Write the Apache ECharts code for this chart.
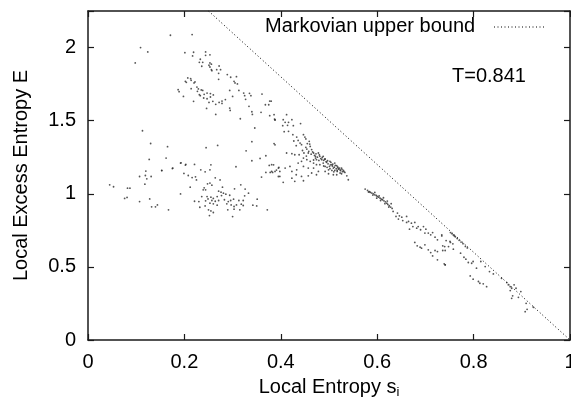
<!DOCTYPE html>
<html>
<head>
<meta charset="utf-8">
<script src="https://cdn.jsdelivr.net/npm/echarts@6/dist/echarts.min.js"></script>
<style>
html,body{margin:0;padding:0;background:#fff;}
#chart{width:571px;height:401px;}
</style>
</head>
<body>
<div id="chart"></div>
<script>
// Axis settings / tick labels
const xTicks = [0, 0.2, 0.4, 0.6, 0.8, 1];
const yTicks = [0, 0.5, 1, 1.5, 2];
const xRange = [0, 1];
const yRange = [0, 2.25];

// Markovian upper bound (end points)
const boundS = [0.25, 1.0];
const boundE = [2.25, 0.0];

// Scatter data: [local entropy s_i, local excess entropy E]
const topStray = [
  [0.109,2.0],[0.124,1.97],[0.098,1.895],[0.171,2.084],[0.216,2.089]
];
const upperArc = [
  [0.201,1.965],[0.219,1.968],[0.217,1.943],[0.244,1.97],[0.253,1.95],[0.244,1.947],[0.233,1.92],
  [0.231,1.899],[0.238,1.899],[0.253,1.895],[0.256,1.886],[0.251,1.879],[0.253,1.867],[0.236,1.872],
  [0.256,1.849],[0.257,1.842],[0.267,1.849],[0.272,1.874],[0.275,1.849],[0.271,1.824],[0.271,1.783],
  [0.289,1.815],[0.296,1.797],[0.308,1.801],[0.303,1.769],[0.305,1.758],[0.310,1.751],[0.294,1.707],
  [0.313,1.707],[0.300,1.666],[0.207,1.792],[0.213,1.787],[0.202,1.769],[0.204,1.762],[0.214,1.776],
  [0.220,1.758],[0.222,1.765],[0.214,1.719],[0.226,1.730],[0.229,1.717],[0.227,1.701],[0.235,1.710],
  [0.238,1.707],[0.187,1.712],[0.189,1.698],[0.198,1.666],[0.231,1.678],[0.233,1.671],[0.241,1.680],
  [0.247,1.689],[0.254,1.685],[0.260,1.676],[0.240,1.655],[0.247,1.650],[0.254,1.662],[0.259,1.632],
  [0.251,1.625],[0.265,1.612],[0.272,1.625],[0.278,1.634],[0.278,1.618],[0.285,1.644],[0.219,1.632],
  [0.246,1.584],[0.265,1.543],[0.294,1.586],[0.295,1.570],[0.316,1.513],[0.323,1.689],[0.325,1.671],
  [0.335,1.687],[0.338,1.671],[0.327,1.646],[0.334,1.598],[0.340,1.561],[0.341,1.543],[0.361,1.682],
  [0.359,1.557],[0.368,1.609],[0.375,1.609],[0.377,1.634],[0.377,1.534],[0.387,1.511],[0.388,1.504],
  [0.346,1.450]
];
const leftLow = [
  [0.113,1.431],[0.130,1.344],[0.127,1.235],[0.120,1.155],[0.107,1.118],[0.119,1.125],[0.131,1.118],
  [0.122,1.102],[0.118,1.066],[0.045,1.061],[0.053,1.048],[0.082,1.038],[0.087,1.038],[0.076,0.968],
  [0.081,0.975],[0.107,0.947],[0.128,0.965],[0.144,0.924],[0.132,0.911],[0.140,0.911],
  [0.165,1.322],[0.162,1.244],[0.153,1.159],[0.175,1.173],[0.193,1.212],[0.203,1.201],[0.221,1.201],
  [0.199,1.139],[0.208,1.125],[0.216,1.111],[0.223,1.116],[0.225,1.095],[0.212,1.045],[0.192,0.999],
  [0.167,0.890],[0.245,1.315],[0.269,1.331],[0.255,1.198],[0.243,1.150],[0.253,1.164],[0.234,1.164],
  [0.264,1.109],[0.274,1.095],[0.248,1.068],[0.253,1.073],[0.257,1.059],[0.241,1.041],[0.239,1.027],
  [0.244,1.027],[0.279,1.045],[0.271,1.018],[0.276,1.011],[0.281,1.004],[0.286,0.997],[0.277,0.988],
  [0.294,0.990],[0.268,0.981],[0.304,1.034],[0.317,1.061],[0.326,1.032],[0.333,1.004],[0.325,0.986],
  [0.236,0.981],[0.247,0.981],[0.255,0.977],[0.260,0.968],[0.249,0.965],[0.244,0.952],[0.257,0.954],
  [0.264,0.949],[0.271,0.954],[0.230,0.947],[0.221,0.949],[0.253,0.936],[0.260,0.931],[0.268,0.922],
  [0.243,0.917],[0.232,0.908],[0.250,0.890],[0.255,0.883],[0.260,0.872],[0.252,0.851],[0.283,0.959],
  [0.288,0.931],[0.291,0.947],[0.296,0.954],[0.302,0.963],[0.297,0.924],[0.303,0.913],[0.308,0.924],
  [0.313,0.954],[0.318,0.929],[0.322,0.954],[0.322,0.920],[0.315,0.890],[0.290,0.890],[0.303,0.895],
  [0.300,0.844],[0.342,0.922],[0.350,0.917],[0.351,0.963],[0.372,0.890],[0.307,1.185],[0.340,1.356],
  [0.328,1.294],[0.340,1.226],[0.357,1.242],[0.369,1.260],[0.388,1.335],[0.376,1.194],[0.385,1.198],
  [0.369,1.146],[0.378,1.146],[0.383,1.146],[0.391,1.162],[0.396,1.180],[0.395,1.118],[0.360,1.114],
  [0.153,1.160],[0.176,1.176],[0.192,1.210],[0.202,1.196]
];
const midCluster = [
  [0.380,1.633],[0.386,1.541],[0.388,1.507],[0.412,1.541],[0.405,1.507],[0.409,1.489],[0.416,1.489],
  [0.404,1.466],[0.414,1.468],[0.423,1.507],[0.426,1.466],[0.407,1.425],[0.416,1.427],[0.441,1.480],
  [0.425,1.404],[0.433,1.388],[0.427,1.361],[0.436,1.365],[0.432,1.329],[0.440,1.347],[0.447,1.404],
  [0.450,1.388],[0.452,1.375],[0.455,1.343],[0.459,1.359],[0.461,1.324],[0.464,1.302],[0.454,1.306],
  [0.448,1.279],[0.457,1.279],[0.468,1.279],[0.472,1.256],[0.478,1.279],[0.481,1.256],[0.488,1.256],
  [0.474,1.233],[0.485,1.233],[0.492,1.238],[0.495,1.215],[0.502,1.222],[0.506,1.199],[0.512,1.210],
  [0.516,1.192],[0.519,1.176],[0.523,1.164],[0.526,1.176],[0.530,1.160],[0.533,1.146],[0.501,1.187],
  [0.509,1.176],[0.512,1.160],[0.517,1.153],[0.523,1.142],[0.506,1.160],[0.499,1.164],[0.492,1.187],
  [0.488,1.210],[0.481,1.199],[0.474,1.199],[0.468,1.210],[0.461,1.222],[0.454,1.233],[0.447,1.244],
  [0.438,1.267],[0.429,1.267],[0.423,1.274],[0.412,1.279],[0.443,1.222],[0.436,1.210],[0.447,1.187],
  [0.457,1.176],[0.468,1.176],[0.478,1.153],[0.492,1.153],[0.499,1.137],[0.509,1.130],[0.516,1.130],
  [0.526,1.137],[0.540,1.096],[0.537,1.123],[0.381,1.199],[0.388,1.153],[0.395,1.176],[0.398,1.153],
  [0.381,1.153],[0.409,1.176],[0.419,1.187],[0.423,1.153],[0.433,1.164],[0.432,1.130],[0.443,1.119],
  [0.423,1.107],[0.405,1.078],[0.398,1.119],[0.386,1.343],[0.457,1.123],[0.464,1.142],[0.474,1.130],
  [0.429,1.085],[0.447,1.089],
  [0.470,1.262],[0.476,1.250],[0.483,1.241],[0.489,1.229],[0.494,1.220],[0.498,1.205],[0.503,1.198],
  [0.507,1.190],[0.511,1.182],[0.515,1.171],[0.520,1.168],[0.524,1.158],[0.528,1.151],[0.531,1.152],
  [0.486,1.248],[0.479,1.228],[0.491,1.236],[0.497,1.226],[0.504,1.215],[0.508,1.203],[0.513,1.194],
  [0.518,1.183],[0.522,1.176],[0.527,1.167],[0.463,1.271],[0.458,1.290],[0.466,1.286],[0.473,1.273],
  [0.480,1.266],[0.496,1.181],[0.502,1.172],[0.489,1.190],[0.517,1.160],[0.510,1.150],[0.472,1.244],
  [0.468,1.231],[0.453,1.258],[0.445,1.296],[0.452,1.318],[0.460,1.340],[0.443,1.336]
];
const band = [
  [0.575,1.032],[0.580,1.023],[0.584,1.014],[0.586,1.009],[0.589,1.005],[0.592,1.000],[0.595,0.993],
  [0.598,0.989],[0.600,0.982],[0.603,0.977],[0.606,0.970],[0.609,0.964],[0.611,0.959],[0.614,0.952],
  [0.617,0.945],[0.620,0.936],[0.622,0.927],[0.625,0.918],[0.628,0.909],[0.631,0.900],[0.582,1.012],
  [0.591,0.991],[0.599,0.970],[0.607,0.954],[0.616,0.932],[0.624,0.909],[0.595,1.009],[0.604,0.986],
  [0.613,0.973],[0.621,0.950],[0.629,0.932],[0.633,0.879],[0.642,0.868],[0.646,0.849],[0.651,0.840],
  [0.644,0.827],[0.653,0.817],[0.661,0.845],[0.665,0.811],[0.671,0.799],[0.678,0.804],[0.674,0.776],
  [0.682,0.765],[0.685,0.776],[0.690,0.754],[0.696,0.776],[0.701,0.758],[0.706,0.731],[0.699,0.731],
  [0.711,0.719],[0.715,0.735],[0.720,0.703],[0.725,0.685],[0.734,0.712],[0.743,0.680],[0.751,0.674],
  [0.748,0.639],[0.678,0.667],[0.683,0.644],[0.689,0.635],[0.692,0.628],[0.699,0.651],[0.706,0.617],
  [0.711,0.598],[0.715,0.575],[0.720,0.612],[0.725,0.605],[0.736,0.612],[0.725,0.548],[0.741,0.514],
  [0.667,0.758],[0.661,0.804],[0.639,0.845],
  [0.755,0.727],[0.758,0.718],[0.762,0.706],[0.766,0.694],[0.752,0.735],[0.760,0.712],[0.770,0.682],
  [0.774,0.670],[0.778,0.659],[0.783,0.640],[0.787,0.630],
  [0.734,0.719],[0.736,0.644],[0.740,0.639],[0.741,0.612],[0.739,0.521],[0.741,0.514],[0.752,0.667],
  [0.757,0.658],[0.758,0.621],[0.773,0.594],[0.780,0.566],[0.784,0.553],[0.789,0.530],[0.796,0.525],
  [0.799,0.537],[0.806,0.491],[0.793,0.438],[0.799,0.416],[0.810,0.400],[0.813,0.388],[0.820,0.384],
  [0.827,0.365],[0.815,0.537],[0.824,0.502],[0.833,0.468],[0.841,0.452],[0.858,0.422],[0.869,0.393],
  [0.872,0.377],[0.876,0.365],[0.879,0.354],[0.884,0.377],[0.888,0.354],[0.876,0.338],[0.881,0.302],
  [0.879,0.285],[0.893,0.292],[0.898,0.331],[0.909,0.251],[0.911,0.210],[0.907,0.194],[0.924,0.224]
];

const FONT = "'Liberation Sans', Arial, Helvetica, sans-serif";
const FS = 20;
const chart = echarts.init(document.getElementById('chart'), null, {renderer: 'canvas'});
const axisLine = {show: true, onZero: false, lineStyle: {color: '#1a1a1a', width: 1.5}};
const tickIn = {show: true, inside: true, length: 6, lineStyle: {color: '#1a1a1a', width: 1.2}};
const scatterStyle = {color: '#2a2a2a'};
const mk = (d) => ({type: 'scatter', data: d, symbolSize: 1.8, itemStyle: scatterStyle, silent: true, xAxisIndex: 0, yAxisIndex: 0});

chart.setOption({
  animation: false,
  backgroundColor: '#fff',
  grid: {left: 88, right: 1, top: 11, bottom: 61, show: false, containLabel: false, outerBoundsMode: 'none'},
  xAxis: [{
    type: 'value', min: xRange[0], max: xRange[1], interval: 0.2, position: 'bottom',
    axisLine: axisLine, axisTick: tickIn, splitLine: {show: false},
    axisLabel: {fontFamily: FONT, fontSize: FS, color: '#000', margin: 12, hideOverlap: false,
      formatter: v => xTicks.some(t => Math.abs(t - v) < 1e-9) ? String(+v.toFixed(1)) : ''},
    name: '{a|Local Entropy s}{b|i}', nameLocation: 'middle', nameGap: 36,
    nameTextStyle: {rich: {a: {fontFamily: FONT, fontSize: FS, color: '#000'},
      b: {fontFamily: FONT, fontSize: 13, color: '#000', verticalAlign: 'bottom', padding: [10, 0, 0, 0]}}}
  }, {
    type: 'value', min: xRange[0], max: xRange[1], interval: 0.2, position: 'top',
    axisLine: axisLine, axisTick: tickIn, axisLabel: {show: false}, splitLine: {show: false}
  }],
  yAxis: [{
    type: 'value', min: yRange[0], max: yRange[1], interval: 0.5, position: 'left',
    axisLine: axisLine, axisTick: tickIn, splitLine: {show: false},
    axisLabel: {fontFamily: FONT, fontSize: FS, color: '#000', margin: 12,
      formatter: v => yTicks.some(t => Math.abs(t - v) < 1e-9) ? String(v) : ''},
    name: 'Local Excess Entropy E', nameLocation: 'middle', nameGap: 57, nameRotate: 90,
    nameTextStyle: {fontFamily: FONT, fontSize: FS, color: '#000'}
  }, {
    type: 'value', min: yRange[0], max: yRange[1], interval: 0.5, position: 'right',
    axisLine: axisLine, axisTick: tickIn, axisLabel: {show: false}, splitLine: {show: false}
  }],
  series: [
    mk(topStray), mk(upperArc), mk(leftLow), mk(midCluster), mk(band),
    {type: 'line', data: boundS.map((s, i) => [s, boundE[i]]), showSymbol: false, silent: true,
     lineStyle: {color: '#000', width: 1, type: [1, 2.5]}, xAxisIndex: 0, yAxisIndex: 0}
  ],
  graphic: [
    {type: 'text', left: 265, top: 16, style: {text: 'Markovian upper bound', font: FS + "px " + FONT, fill: '#000'}},
    {type: 'line', shape: {x1: 494, y1: 27, x2: 546, y2: 27}, style: {stroke: '#000', lineWidth: 1, lineDash: [1, 2.5]}},
    {type: 'text', left: 452, top: 66, style: {text: 'T=0.841', font: FS + "px " + FONT, fill: '#000'}}
  ]
});
</script>
</body>
</html>
